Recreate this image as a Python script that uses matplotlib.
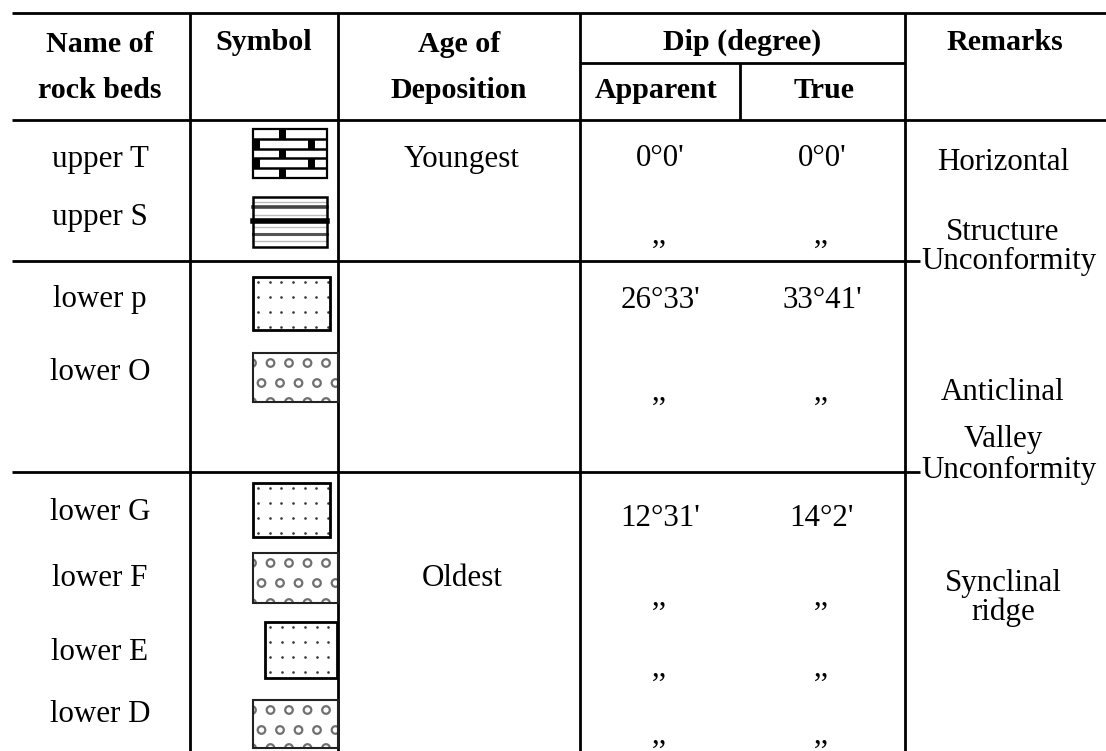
import matplotlib
matplotlib.use("Agg")
import matplotlib.pyplot as plt
from matplotlib.patches import Rectangle, Circle
import numpy as np

# ---------------- data ----------------
header_top = ["Name of", "Symbol", "Age of", "Dip (degree)", "Remarks"]
header_bottom = ["rock beds", "Deposition", "Apparent", "True"]
bed_names = ["upper T", "upper S", "lower p", "lower O", "lower G", "lower F", "lower E", "lower D"]
bed_symbols = ["brick", "stripes", "dots", "circles", "dots", "circles", "dots", "circles"]
bed_ages = ["Youngest", "", "", "", "", "Oldest", "", ""]
dip_apparent = ["0°0'", ",,", "26°33'", ",,", "12°31'", ",,", ",,", ",,"]
dip_true = ["0°0'", ",,", "33°41'", ",,", "14°2'", ",,", ",,", ",,"]
remarks = ["Horizontal", "Structure", "Unconformity", "Anticlinal", "Valley",
           "Unconformity", "Synclinal", "ridge"]

# ---------------- layout ----------------
W, H = 1106, 751
FONT = "Liberation Serif"
FS = 22.3
FS_H = 21.6
LW = 2.0

name_y = [160, 218, 300, 372, 513, 578, 653, 715]
dip_y = [158, 235, 300, 392, 519, 597, 668, 735]
rem_y = [162, 233, 261, 392, 440, 470, 583, 612]
rem_left = [False, False, True, False, False, True, False, False]
sym_box = [(253, 129, 327, 178), (253, 197, 327, 247), (253, 277, 330, 330),
           (253, 353, 338, 402), (253, 483, 330, 537), (253, 553, 338, 603),
           (265, 622, 337, 678), (253, 700, 338, 748)]

fig = plt.figure(figsize=(W / 100, H / 100), dpi=100)
ax = fig.add_axes([0, 0, 1, 1])
ax.set_xlim(0, W)
ax.set_ylim(H, 0)
ax.axis("off")


def line(xs, ys, lw=LW):
    ax.plot(xs, ys, color="black", lw=lw, solid_capstyle="butt")


# grid lines
line([12, W], [13, 13])
line([12, W], [120, 120])
for xv in [190, 338, 580, 905]:
    line([xv, xv], [13, H])
line([580, 905], [63, 63])
line([740, 740], [63, 120])
line([12, 920], [261, 261])
line([12, 920], [472, 472])

# headers
hk = dict(family=FONT, fontsize=FS_H, fontweight="bold", ha="center", va="center")
ax.text(100, 44, header_top[0], **hk)
ax.text(264, 42, header_top[1], **hk)
ax.text(459, 44, header_top[2], **hk)
ax.text(742, 42, header_top[3], **hk)
ax.text(1005, 42, header_top[4], **hk)
ax.text(100, 90, header_bottom[0], **hk)
ax.text(459, 90, header_bottom[1], **hk)
ax.text(656, 90, header_bottom[2], **hk)
ax.text(824, 90, header_bottom[3], **hk)

tk = dict(family=FONT, fontsize=FS, ha="center", va="center")
for i, nm in enumerate(bed_names):
    ax.text(100, name_y[i], nm, **tk)
    if bed_ages[i]:
        ax.text(462, name_y[i], bed_ages[i], **tk)
    ax.text(660, dip_y[i], dip_apparent[i], **tk)
    ax.text(822, dip_y[i], dip_true[i], **tk)

for i, r in enumerate(remarks):
    if rem_left[i]:
        ax.text(921, rem_y[i], r, family=FONT, fontsize=FS, ha="left", va="center")
    else:
        ax.text(1003, rem_y[i], r, **tk)


# ---------------- symbols ----------------
def frame(x0, y0, x1, y1, ec="black", lw=1.6, z=3):
    r = Rectangle((x0, y0), x1 - x0, y1 - y0, facecolor="none", edgecolor=ec, lw=lw, zorder=z)
    ax.add_patch(r)
    return r


def clip_rect(x0, y0, x1, y1):
    r = Rectangle((x0, y0), x1 - x0, y1 - y0, facecolor="white", edgecolor="none", zorder=1)
    ax.add_patch(r)
    return r


def draw_brick(x0, y0, x1, y1):
    clip_rect(x0, y0, x1, y1)
    w = x1 - x0
    h = (y1 - y0) / 5
    for k in range(1, 5):
        line([x0, x1], [y0 + k * h, y0 + k * h], lw=1.8)
    for k in range(5):
        joints = [0.40] if k % 2 == 0 else [0.05, 0.79]
        for j in joints:
            ax.add_patch(Rectangle((x0 + j * w - 3.5, y0 + k * h), 7, h,
                                   facecolor="black", edgecolor="none", zorder=2))
    frame(x0, y0, x1, y1)


def draw_stripes(x0, y0, x1, y1):
    clip_rect(x0, y0, x1, y1)
    hh = y1 - y0
    for f, c, lw in [(0.2, "#444444", 2.6), (0.47, "black", 4.0), (0.73, "#555555", 2.2),
                     (0.1, "#bbbbbb", 1.0), (0.35, "#bbbbbb", 1.0), (0.6, "#bbbbbb", 1.0),
                     (0.87, "#bbbbbb", 1.0)]:
        ax.plot([x0, x1], [y0 + f * hh] * 2, color=c, lw=lw, zorder=2)
    frame(x0, y0, x1, y1, lw=1.8)


def draw_dots(x0, y0, x1, y1):
    r = clip_rect(x0, y0, x1, y1)
    xs = np.arange(x0 + 5, x1 + 3, 11.7)
    ys = [y0 + 5, y0 + 20, y0 + 35, y0 + 50]
    X, Y = np.meshgrid(xs, ys)
    sc = ax.scatter(X.ravel(), Y.ravel(), s=3.5, color="#333333", zorder=2, linewidths=0)
    sc.set_clip_path(r)
    frame(x0, y0, x1, y1, lw=2.0)


def draw_circles(x0, y0, x1, y1):
    r = clip_rect(x0, y0, x1, y1)
    step = 18.5
    for yy, off in [(y0 + 10, -1), (y0 + 30, 8.5), (y1, -1)]:
        xx = x0 + off
        while xx < x1 + 5:
            c = Circle((xx, yy), 3.8, facecolor="none", edgecolor="#707070", lw=1.6, zorder=2)
            ax.add_patch(c)
            c.set_clip_path(r)
            xx += step
    frame(x0, y0, x1, y1, ec="#222222", lw=1.5)


drawers = {"brick": draw_brick, "stripes": draw_stripes, "dots": draw_dots, "circles": draw_circles}
for s, box in zip(bed_symbols, sym_box):
    drawers[s](*box)

fig.savefig("out.png", dpi=100)
